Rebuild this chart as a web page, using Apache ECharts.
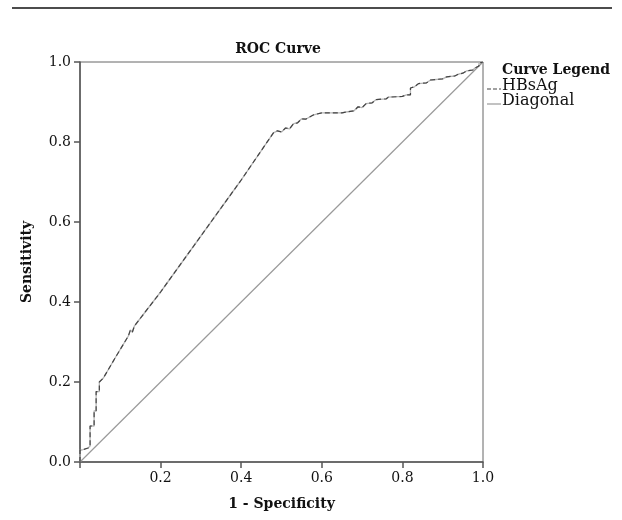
<!DOCTYPE html>
<html><head><meta charset="utf-8">
<script src="https://cdn.jsdelivr.net/npm/echarts@6/dist/echarts.min.js"></script>
<style>html,body{margin:0;padding:0;background:#fff}#c{width:622px;height:520px}</style>
</head><body><div id="c"></div>
<script>
// ROC curve for HBsAg: 1-Specificity (fpr) and Sensitivity (tpr)
var fpr = [0,0,0.005,0.005,0.02,0.02,0.025,0.025,0.035,0.035,0.04,0.04,0.048,0.048,0.058,0.09,0.12,0.125,0.13,0.135,0.2,0.3,0.4,0.48,0.49,0.5,0.51,0.52,0.53,0.54,0.55,0.56,0.58,0.6,0.65,0.66,0.68,0.69,0.7,0.71,0.725,0.735,0.76,0.765,0.8,0.81,0.82,0.82,0.83,0.84,0.86,0.87,0.9,0.91,0.93,0.94,0.95,0.96,0.975,0.98,0.99,0.99,1];
var tpr = [0,0.03,0.03,0.035,0.035,0.04,0.04,0.09,0.09,0.128,0.128,0.176,0.176,0.2,0.21,0.265,0.315,0.33,0.325,0.34,0.425,0.565,0.705,0.823,0.828,0.825,0.835,0.833,0.846,0.848,0.858,0.857,0.868,0.873,0.873,0.875,0.878,0.888,0.886,0.896,0.898,0.906,0.908,0.912,0.914,0.918,0.918,0.935,0.938,0.946,0.948,0.955,0.958,0.963,0.965,0.97,0.972,0.978,0.98,0.985,0.99,0.997,1];
var diagX = [0, 1];
var diagY = [0, 1];
var xTicks = ['0.2','0.4','0.6','0.8','1.0'];
var yTicks = ['0.0','0.2','0.4','0.6','0.8','1.0'];
var seriesNames = ['HBsAg','Diagonal'];
var legendTitle = 'Curve Legend';

var FONT = 'DejaVu Serif';
var rocData = fpr.map(function(v,i){return [v,tpr[i]];});
var diagData = diagX.map(function(v,i){return [v,diagY[i]];});

var chart = echarts.init(document.getElementById('c'), null, {renderer:'canvas'});
chart.setOption({
  animation:false,
  backgroundColor:'#fff',
  textStyle:{fontFamily:FONT},
  title:[
    {text:'ROC Curve', left:273, top:37, textAlign:'center',
     textStyle:{fontFamily:FONT,fontSize:14,fontWeight:'bold',color:'#111'}},
    {text:legendTitle, left:497, top:58,
     textStyle:{fontFamily:FONT,fontSize:14,fontWeight:'bold',color:'#111'}}
  ],
  grid:{left:80, right:139, top:62, bottom:58, show:true, borderColor:'#666', borderWidth:1},
  xAxis:{
    type:'value', min:0, max:1, interval:0.2,
    axisLine:{show:true,onZero:false,lineStyle:{color:'#555',width:1.5}},
    axisTick:{show:true,length:6,lineStyle:{color:'#555',width:1.5}},
    splitLine:{show:false},
    axisLabel:{fontFamily:FONT,fontSize:14,color:'#111',margin:9,
      formatter:function(v){var s=v.toFixed(1);return xTicks.indexOf(s)>=0?s:'';}},
    name:'1 - Specificity', nameLocation:'middle', nameGap:35,
    nameTextStyle:{fontFamily:FONT,fontSize:14,fontWeight:'bold',color:'#111'}
  },
  yAxis:{
    type:'value', min:0, max:1, interval:0.2,
    axisLine:{show:true,onZero:false,lineStyle:{color:'#555',width:1.5}},
    axisTick:{show:true,length:6,lineStyle:{color:'#555',width:1.5}},
    splitLine:{show:false},
    axisLabel:{fontFamily:FONT,fontSize:14,color:'#111',margin:9,
      formatter:function(v){var s=v.toFixed(1);return yTicks.indexOf(s)>=0?s:'';}},
    name:'Sensitivity', nameLocation:'middle', nameGap:46, nameRotate:90,
    nameTextStyle:{fontFamily:FONT,fontSize:14,fontWeight:'bold',color:'#111'}
  },
  graphic:[
    {type:'line', shape:{x1:12,y1:8,x2:612,y2:8}, style:{stroke:'#111',lineWidth:1.5}},
    {type:'line', shape:{x1:487,y1:89,x2:501,y2:89}, style:{stroke:'#444',lineWidth:1.2,lineDash:[4,2]}},
    {type:'text', left:502, top:78, style:{text:seriesNames[0],font:'16px "DejaVu Serif"',fill:'#111'}},
    {type:'line', shape:{x1:487,y1:104,x2:501,y2:104}, style:{stroke:'#999',lineWidth:1.2}},
    {type:'text', left:502, top:93, style:{text:seriesNames[1],font:'16px "DejaVu Serif"',fill:'#111'}}
  ],
  series:[
    {name:'HBsAg-base', type:'line', data:rocData, showSymbol:false, symbol:'none', silent:true,
     lineStyle:{color:'#b5b5b5',width:1.3}, z:2},
    {name:seriesNames[0], type:'line', data:rocData, showSymbol:false, symbol:'none',
     lineStyle:{color:'#444',width:1.2,type:[5,3]}, z:3},
    {name:seriesNames[1], type:'line', data:diagData, showSymbol:false, symbol:'none',
     lineStyle:{color:'#9a9a9a',width:1.2}, z:1}
  ]
});
</script></body></html>
